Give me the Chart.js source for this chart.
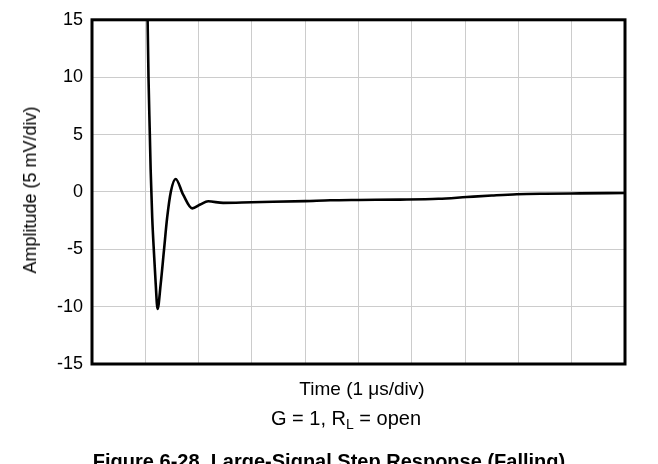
<!DOCTYPE html>
<html>
<head>
<meta charset="utf-8">
<script src="https://cdn.jsdelivr.net/npm/chart.js@4"></script>
<style>
  html, body { margin: 0; padding: 0; background: #fff; }
  #wrap { position: relative; width: 658px; height: 464px; overflow: hidden; font-family: "Liberation Sans", Arial, sans-serif; }
  #wrap canvas { position: absolute; left: 0; top: 0; }
  .lbl { position: absolute; white-space: nowrap; color: #000; line-height: 1; }
  #ytitle { left: 30px; top: 190px; font-size: 18px; transform: translate(-50%, -50%) rotate(-90deg); }
  #xtitle { left: 362px; top: 388px; font-size: 19px; transform: translate(-50%, -50%); }
  #cond   { left: 346px; top: 418px; font-size: 20px; transform: translate(-50%, -50%); }
  #cond sub { font-size: 14px; vertical-align: -4px; line-height: 0; }
  #caption { left: 329px; top: 451px; font-size: 20px; font-weight: bold; transform: translateX(-50%); }
</style>
</head>
<body>
<div id="wrap">
  <canvas id="step"></canvas>
  <div class="lbl" id="ytitle">Amplitude (5 mV/div)</div>
  <div class="lbl" id="xtitle">Time (1 &mu;s/div)</div>
  <div class="lbl" id="cond">G = 1, R<sub>L</sub> = open</div>
  <div class="lbl" id="caption">Figure 6-28. Large-Signal Step Response (Falling)</div>
</div>
<script>
/* Step response trace (time in µs, amplitude in divisions of mV) */
const timeUs = [1.04, 1.06, 1.085, 1.10, 1.13, 1.165, 1.195, 1.23, 1.29, 1.35, 1.41, 1.48, 1.57, 1.71, 1.88, 2.03, 2.18, 2.46, 3.0, 4.0, 4.47, 5.0, 5.78, 6.5, 7.03, 7.5, 7.97, 8.5, 9.15, 10.0];
const ampl   = [16, 10, 5, 2, -2.25, -5.5, -8, -10.2, -7.98, -5.1, -2.25, 0.04, 1.13, -0.24, -1.44, -1.1, -0.82, -0.96, -0.9, -0.8, -0.73, -0.7, -0.67, -0.6, -0.45, -0.32, -0.21, -0.16, -0.13, -0.1];

const yTicks = [-15, -10, -5, 0, 5, 10, 15];

const GRID_COLOR = '#cccccc';
const TICK_FONT  = { family: '"Liberation Sans", Arial, sans-serif', size: 18 };

/* Thick black frame around the plot area */
const frame = {
  id: 'frame',
  afterDatasetsDraw(chart) {
    const { ctx, chartArea: a } = chart;
    ctx.save();
    ctx.strokeStyle = '#000';
    ctx.lineWidth = 3;
    ctx.strokeRect(a.left, a.top, a.right - a.left, a.bottom - a.top);
    ctx.restore();
  },
};

const cv = document.getElementById('step');
cv.width = 658; cv.height = 464;

new Chart(cv, {
  type: 'line',
  data: {
    datasets: [{
      data: timeUs.map((t, i) => ({ x: t, y: ampl[i] })),
      borderColor: '#000',
      borderWidth: 2.6,
      pointRadius: 0,
      cubicInterpolationMode: 'monotone',
      clip: 0,
      fill: false,
    }],
  },
  options: {
    responsive: false,
    animation: false,
    devicePixelRatio: 1,
    layout: { padding: { top: 16, right: 33, left: 0, bottom: 0 } },
    plugins: { legend: { display: false }, tooltip: { enabled: false } },
    scales: {
      x: {
        type: 'linear', min: 0, max: 10,
        ticks: { display: false, stepSize: 1 },
        grid: { color: GRID_COLOR, lineWidth: 1, drawTicks: false },
        border: { display: false },
        afterFit: s => { s.height = 100; },
      },
      y: {
        type: 'linear', min: -15, max: 15,
        afterBuildTicks: s => { s.ticks = yTicks.map(v => ({ value: v })); },
        ticks: { color: '#000', font: TICK_FONT, padding: 9 },
        grid: { color: GRID_COLOR, lineWidth: 1, drawTicks: false },
        border: { display: false },
        afterFit: s => { s.width = 92; },
      },
    },
  },
  plugins: [frame],
});
</script>
</body>
</html>
